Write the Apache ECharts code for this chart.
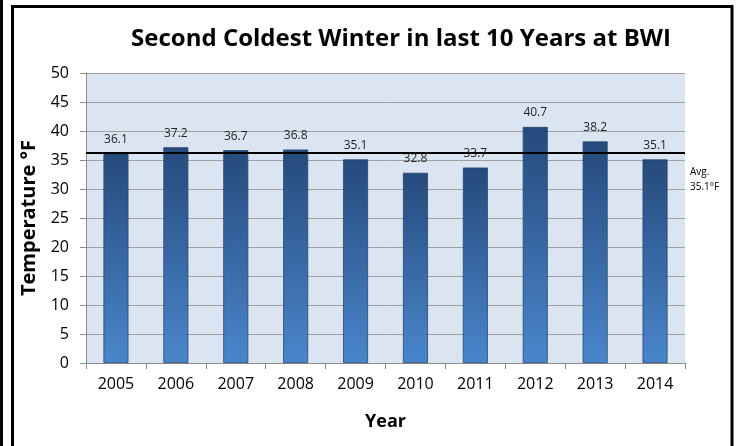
<!DOCTYPE html>
<html>
<head>
<meta charset="utf-8">
<script src="https://cdn.jsdelivr.net/npm/echarts@6/dist/echarts.min.js"></script>
<style>
html,body{margin:0;padding:0;background:#fff;}
#chart{width:736px;height:446px;}
</style>
</head>
<body>
<div id="chart"></div>
<script>
const years = ['2005','2006','2007','2008','2009','2010','2011','2012','2013','2014'];
const temps = [36.1, 37.2, 36.7, 36.8, 35.1, 32.8, 33.7, 40.7, 38.2, 35.1];
const avgLineValue = 36.3;
const avgLabel = 'Avg.\n35.1°F';
const titleText = 'Second Coldest Winter in last 10 Years at BWI';

const chart = echarts.init(document.getElementById('chart'));
const F = '"Open Sans", "Liberation Sans", sans-serif';
chart.setOption({
  animation: false,
  backgroundColor: '#fff',
  title: {
    text: titleText,
    left: 396, top: 22, textAlign: 'center',
    textStyle: {fontFamily: F, fontSize: 24, fontWeight: 'bold', color: '#000'}
  },
  grid: {left: 86, right: 51, top: 73, bottom: 83, show: true, backgroundColor: '#dbe5f1', borderWidth: 0},
  xAxis: {
    type: 'category', data: years,
    name: 'Year', nameLocation: 'middle', nameGap: 50,
    nameTextStyle: {fontFamily: F, fontSize: 18, fontWeight: 'bold', color: '#000'},
    axisLine: {lineStyle: {color: '#8c8c8c', width: 1}},
    axisTick: {show: true, length: 6, lineStyle: {color: '#8c8c8c'}},
    axisLabel: {fontFamily: F, fontSize: 16, color: '#000', margin: 13}
  },
  yAxis: {
    type: 'value', min: 0, max: 50, interval: 5,
    name: 'Temperature °F', nameLocation: 'middle', nameGap: 47, nameRotate: 90,
    nameTextStyle: {fontFamily: F, fontSize: 20, fontWeight: 'bold', color: '#000'},
    axisLine: {show: true, lineStyle: {color: '#8c8c8c', width: 1}},
    axisTick: {show: true, length: 6, lineStyle: {color: '#8c8c8c'}},
    axisLabel: {fontFamily: F, fontSize: 16, color: '#000', margin: 17},
    splitLine: {lineStyle: {color: '#a0a0a0', width: 1}}
  },
  series: [{
    type: 'bar', data: temps, barWidth: 25,
    itemStyle: {
      color: new echarts.graphic.LinearGradient(0, 0, 0, 1, [
        {offset: 0, color: '#264a7c'},
        {offset: 1, color: '#4a86cb'}
      ]),
      borderColor: '#25466f', borderWidth: 0.8
    },
    label: {show: true, position: 'top', distance: 8, fontFamily: F, fontSize: 12, color: '#222',
      formatter: p => p.value.toFixed(1)},
    markLine: {
      symbol: 'none', silent: true,
      lineStyle: {color: '#000', width: 2, type: 'solid'},
      label: {show: false},
      data: [{yAxis: avgLineValue}]
    }
  }],
  graphic: [
    {type: 'line', shape: {x1: 1.5, y1: 0, x2: 1.5, y2: 446}, style: {stroke: '#000', lineWidth: 3}},
    {type: 'polyline', shape: {points: [[12.5, 446], [12.5, 6.5], [732, 6.5], [732, 446]]}, style: {stroke: '#000', lineWidth: 3, fill: null}},
    {type: 'text', left: 690, top: 165, style: {text: avgLabel, fontFamily: F, fontSize: 10, lineHeight: 15, fill: '#000'}}
  ]
});
</script>
</body>
</html>
